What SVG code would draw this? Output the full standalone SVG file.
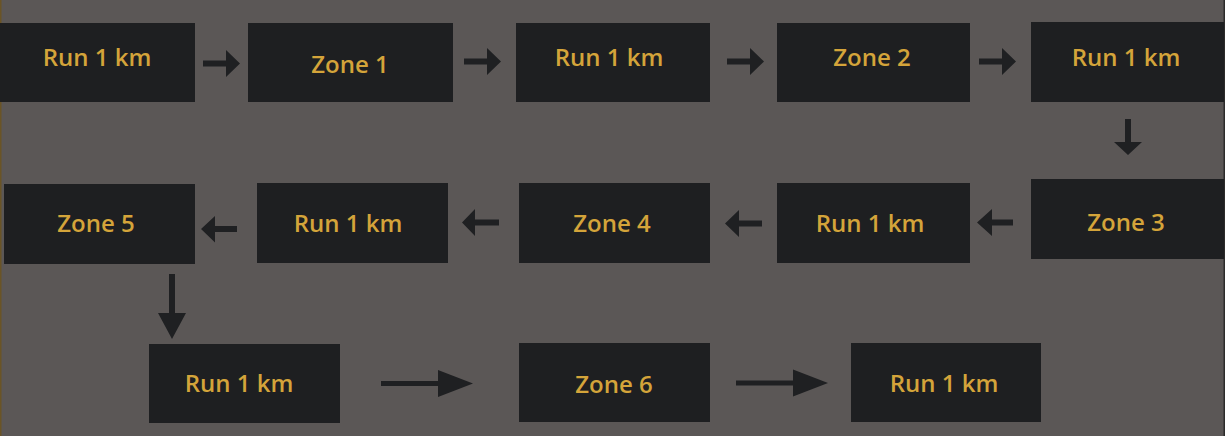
<svg xmlns="http://www.w3.org/2000/svg" width="1225" height="436" viewBox="0 0 1225 436">
<style>
.bg{fill:#5b5756}
.box{fill:#1e1f21}
.lbl{fill:#d4a43a;font-family:"Open Sans","Liberation Sans",sans-serif;font-weight:600;font-size:24px;text-anchor:middle}
.arr{fill:#1f2022}
</style>
<rect class="bg" x="0" y="0" width="1225" height="436"/>
<rect x="0" y="0" width="1.5" height="436" fill="#6a5426"/>
<rect x="1223.5" y="0" width="1.5" height="436" fill="#2c2b2a"/>
<g id="n1"><rect class="box" x="0" y="23" width="195" height="79"/><text class="lbl" x="97" y="65.5">Run 1 km</text></g>
<g id="n2"><rect class="box" x="248" y="23" width="205" height="79"/><text class="lbl" x="350" y="72.5">Zone 1</text></g>
<g id="n3"><rect class="box" x="516" y="23" width="194" height="79"/><text class="lbl" x="609" y="65.5">Run 1 km</text></g>
<g id="n4"><rect class="box" x="777" y="23" width="193" height="79"/><text class="lbl" x="872" y="65.5">Zone 2</text></g>
<g id="n5"><rect class="box" x="1031" y="22" width="193" height="80"/><text class="lbl" x="1126" y="65.5">Run 1 km</text></g>
<g id="n6"><rect class="box" x="1031" y="179" width="193" height="80"/><text class="lbl" x="1126" y="231">Zone 3</text></g>
<g id="n7"><rect class="box" x="777" y="183" width="193" height="80"/><text class="lbl" x="870" y="231.5">Run 1 km</text></g>
<g id="n8"><rect class="box" x="519" y="183" width="191" height="80"/><text class="lbl" x="612" y="231.5">Zone 4</text></g>
<g id="n9"><rect class="box" x="257" y="183" width="191" height="80"/><text class="lbl" x="348" y="231.5">Run 1 km</text></g>
<g id="n10"><rect class="box" x="4" y="184" width="191" height="80"/><text class="lbl" x="96" y="232">Zone 5</text></g>
<g id="n11"><rect class="box" x="149" y="344" width="191" height="79"/><text class="lbl" x="239" y="392">Run 1 km</text></g>
<g id="n12"><rect class="box" x="519" y="343" width="191" height="79"/><text class="lbl" x="614" y="393">Zone 6</text></g>
<g id="n13"><rect class="box" x="851" y="343" width="190" height="79"/><text class="lbl" x="944" y="392">Run 1 km</text></g>
<g id="connectors">
<path class="arr" d="M203 60.5 H226 V50 L240 63.5 L226 77 V66.5 H203 Z"/>
<path class="arr" d="M464 58.5 H487 V48 L501 61.5 L487 75 V64.5 H464 Z"/>
<path class="arr" d="M727 58.5 H750 V48 L764 61.5 L750 75 V64.5 H727 Z"/>
<path class="arr" d="M979 58.5 H1002 V48 L1016 61.5 L1002 75 V64.5 H979 Z"/>
<path class="arr" d="M1125 119 V142 H1114 L1128 155 L1142 142 H1131 V119 Z"/>
<path class="arr" d="M1013 219.5 H992 V209 L977 222.5 L992 236 V225.5 H1013 Z"/>
<path class="arr" d="M762 220.5 H739 V210 L725 223.5 L739 237 V226.5 H762 Z"/>
<path class="arr" d="M499 219.5 H475 V209 L462 222.5 L475 236 V225.5 H499 Z"/>
<path class="arr" d="M237 226 H215 V216 L201 229 L215 242.5 V232 H237 Z"/>
<path class="arr" d="M169 274 V313 H158 L172 339 L186 313 H175 V274 Z"/>
<path class="arr" d="M381 381 H438 V370 L473 383.5 L438 397 V386 H381 Z"/>
<path class="arr" d="M736 380.5 H793 V369.5 L828 383 L793 396.5 V385.5 H736 Z"/>
</g>
</svg>
